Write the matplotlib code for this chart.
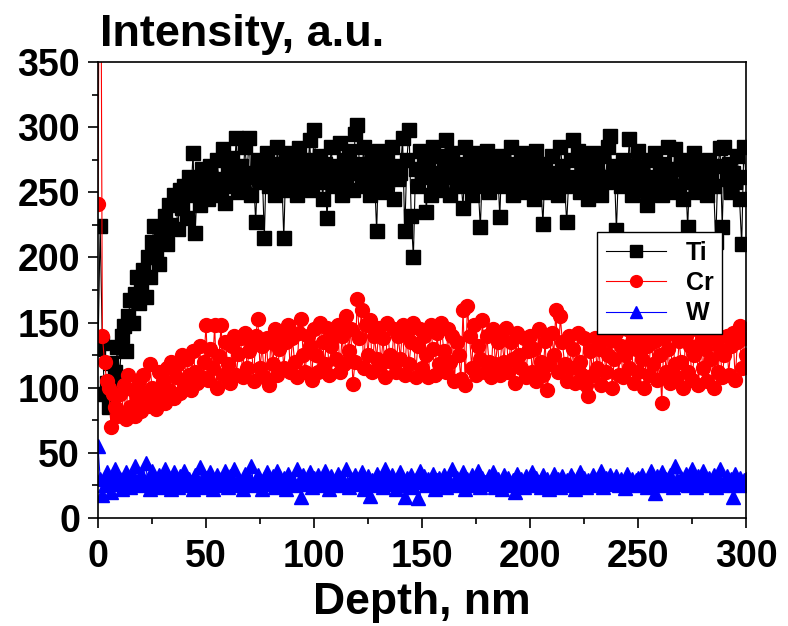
import numpy as np
import matplotlib
matplotlib.use("Agg")
import matplotlib.pyplot as plt
from matplotlib.ticker import MultipleLocator

plt.rcParams['font.family'] = ['Liberation Sans', 'DejaVu Sans']
plt.rcParams['font.weight'] = 'bold'

# depth grid (nm), one point per nm
depth = np.arange(0, 301, 1)

ti = [130, 224, 134, 95, 104, 85, 119, 100, 112, 131,
      108, 140, 147, 128, 155, 167, 150, 172, 185, 165,
      178, 190, 170, 200, 185, 212, 224, 206, 195, 218,
      220, 232, 210, 240, 225, 248, 245, 222, 252, 238,
      255, 230, 262, 248, 280, 219, 258, 240, 268, 250,
      262, 245, 270, 255, 248, 275, 260, 252, 283, 242,
      268, 255, 276, 262, 292, 250, 270, 258, 285, 265,
      292, 248, 262, 227, 275, 258, 268, 215, 280, 255,
      262, 272, 248, 285, 258, 266, 215, 275, 252, 280,
      260, 270, 248, 284, 265, 255, 275, 262, 290, 252,
      298, 268, 258, 278, 245, 272, 230, 262, 285, 255,
      270, 262, 288, 248, 275, 258, 282, 265, 252, 295,
      302, 272, 260, 285, 255, 270, 248, 278, 262, 220,
      282, 258, 268, 250, 275, 262, 285, 245, 270, 260,
      265, 292, 220, 275, 298, 232, 200, 268, 255, 282,
      262, 275, 235, 270, 248, 285, 258, 265, 278, 252,
      270, 290, 262, 248, 280, 265, 255, 272, 260, 238,
      285, 258, 275, 248, 266, 280, 255, 223, 270, 262,
      282, 250, 275, 262, 258, 270, 231, 278, 255, 268,
      262, 285, 248, 272, 258, 265, 280, 250, 268, 255,
      275, 260, 245, 282, 268, 255, 226, 272, 262, 250,
      278, 258, 265, 248, 285, 270, 255, 227, 262, 275,
      290, 260, 282, 250, 268, 258, 275, 245, 265, 280,
      255, 272, 262, 248, 278, 258, 285, 293, 262, 270,
      221, 268, 255, 275, 258, 262, 291, 248, 270, 260,
      282, 252, 268, 258, 240, 275, 262, 250, 280, 255,
      265, 248, 272, 258, 285, 262, 250, 283, 268, 255,
      275, 245, 262, 223, 270, 258, 280, 250, 265, 272,
      258, 268, 248, 275, 262, 255, 212, 270, 284, 223,
      285, 260, 272, 250, 265, 258, 278, 245, 210, 285,
      262]

cr = [241, 600, 140, 120, 105, 100, 70, 95, 85, 78,
      95, 80, 102, 76, 110, 85, 98, 78, 92, 105,
      82, 110, 96, 86, 118, 100, 92, 84, 112, 96,
      105, 88, 115, 98, 120, 92, 108, 118, 96, 125,
      102, 122, 110, 98, 128, 112, 104, 132, 108, 120,
      148, 106, 130, 115, 148, 100, 124, 148, 110, 135,
      118, 104, 132, 140, 110, 126, 138, 108, 142, 115,
      128, 136, 105, 140, 153, 115, 132, 108, 138, 102,
      135, 118, 145, 110, 130, 140, 115, 135, 148, 112,
      138, 120, 108, 142, 153, 125, 112, 140, 132, 106,
      145, 125, 112, 150, 135, 118, 146, 110, 132, 140,
      122, 148, 112, 140, 118, 155, 128, 145, 103, 120,
      168, 138, 160, 115, 148, 125, 152, 112, 140, 122,
      146, 118, 138, 108, 150, 125, 120, 145, 112, 140,
      122, 148, 110, 142, 118, 135, 150, 108, 132, 145,
      115, 140, 125, 108, 148, 130, 110, 142, 118, 150,
      128, 112, 145, 120, 140, 105, 135, 125, 107, 160,
      102, 163, 140, 115, 148, 110, 132, 122, 152, 112,
      140, 120, 108, 145, 118, 135, 110, 138, 120, 146,
      112, 135, 122, 104, 142, 125, 115, 138, 108, 128,
      140, 112, 130, 105, 145, 120, 110, 136, 98, 118,
      142, 125, 160, 112, 155, 135, 118, 105, 140, 115,
      130, 104, 142, 120, 110, 138, 102, 94, 128, 110,
      138, 115, 130, 102, 140, 112, 125, 136, 100, 122,
      142, 110, 132, 108, 125, 145, 115, 135, 104, 130,
      112, 140, 122, 100, 132, 110, 142, 118, 136, 106,
      125, 88, 138, 112, 130, 104, 142, 118, 108, 136,
      120, 100, 140, 112, 132, 106, 125, 145, 102, 135,
      115, 130, 105, 140, 122, 100, 136, 112, 130, 108,
      125, 140, 110, 132, 142, 106, 135, 147, 115, 138,
      125]

w = [55, 30, 18, 25, 35, 28, 20, 32, 38, 26,
     30, 22, 27, 35, 28, 24, 32, 40, 26, 30,
     34, 25, 42, 28, 22, 36, 30, 26, 33, 24,
     29, 38, 26, 31, 22, 35, 28, 24, 32, 27,
     36, 25, 30, 28, 22, 33, 26, 39, 29, 24,
     31, 27, 35, 22, 29, 33, 25, 30, 28, 36,
     24, 32, 27, 38, 25, 30, 28, 22, 34, 26,
     31, 40, 25, 29, 33, 27, 22, 30, 35, 26,
     28, 32, 24, 36, 29, 26, 31, 22, 34, 27,
     30, 25, 38, 28, 16, 33, 26, 29, 35, 24,
     31, 27, 33, 25, 30, 36, 28, 22, 32, 26,
     29, 34, 25, 31, 27, 38, 24, 30, 28, 33,
     26, 30, 35, 22, 28, 32, 17, 29, 25, 34,
     27, 31, 24, 38, 29, 26, 33, 28, 22, 30,
     35, 25, 16, 31, 27, 33, 24, 29, 15, 36,
     28, 32, 25, 30, 26, 34, 22, 29, 31, 27,
     33, 24, 30, 28, 38, 25, 31, 26, 29, 35,
     22, 30, 27, 33, 25, 29, 36, 24, 31, 28,
     26, 32, 29, 35, 24, 30, 27, 22, 33, 28,
     31, 25, 29, 20, 34, 27, 30, 24, 32, 26,
     29, 35, 25, 31, 28, 24, 33, 27, 30, 22,
     28, 34, 26, 30, 24, 32, 27, 29, 25, 33,
     30, 22, 28, 35, 26, 31, 24, 29, 27, 33,
     25, 30, 28, 36, 24, 31, 27, 33, 29, 26,
     32, 25, 30, 28, 23, 34, 27, 30, 25, 29,
     31, 26, 33, 28, 24, 30, 36, 27, 19, 32,
     28, 35, 25, 30, 27, 33, 24, 40, 29, 26,
     31, 27, 34, 25, 30, 38, 28, 24, 32, 26,
     36, 29, 25, 31, 27, 33, 24, 30, 38, 26,
     28, 32, 25, 30, 16, 34, 27, 31, 25, 29,
     30]

fig = plt.figure(figsize=(7.88, 6.26), dpi=100)
ax = fig.add_axes([0.1244, 0.1725, 0.8223, 0.7285])

ax.plot(depth, ti, color='black', lw=0.8, marker='s', ms=9.5, label='Ti')
ax.plot(depth, cr, color='red', lw=0.8, marker='o', ms=10, label='Cr')
ax.plot(depth, w, color='blue', lw=0.8, marker='^', ms=10, label='W')

ax.set_xlim(0, 300)
ax.set_ylim(0, 350)
ax.xaxis.set_major_locator(MultipleLocator(50))
ax.xaxis.set_minor_locator(MultipleLocator(25))
ax.yaxis.set_major_locator(MultipleLocator(50))
ax.yaxis.set_minor_locator(MultipleLocator(25))
ax.tick_params(which='major', direction='out', length=7, width=1.2, labelsize=27)
ax.tick_params(which='minor', direction='out', length=4, width=1.2)
ax.tick_params(axis='y', which='major', pad=6)
ax.tick_params(axis='x', which='major', pad=8)
for s in ax.spines.values():
    s.set_linewidth(1.2)

ax.set_xlabel('Depth, nm', fontsize=32, fontweight='bold', labelpad=5)
fig.text(0.127, 1 - 46 / 626, 'Intensity, a.u.', fontsize=32.5, fontweight='bold',
         ha='left', va='baseline')

leg = ax.legend(loc='upper left', bbox_to_anchor=(0.77, 0.627), borderaxespad=0,
                fancybox=False, edgecolor='black', fontsize=18, handlelength=2.4,
                markerscale=0.85, borderpad=0.35, labelspacing=0.25, framealpha=1)
leg.get_frame().set_linewidth(1.0)

fig.savefig('out.png', dpi=100)
